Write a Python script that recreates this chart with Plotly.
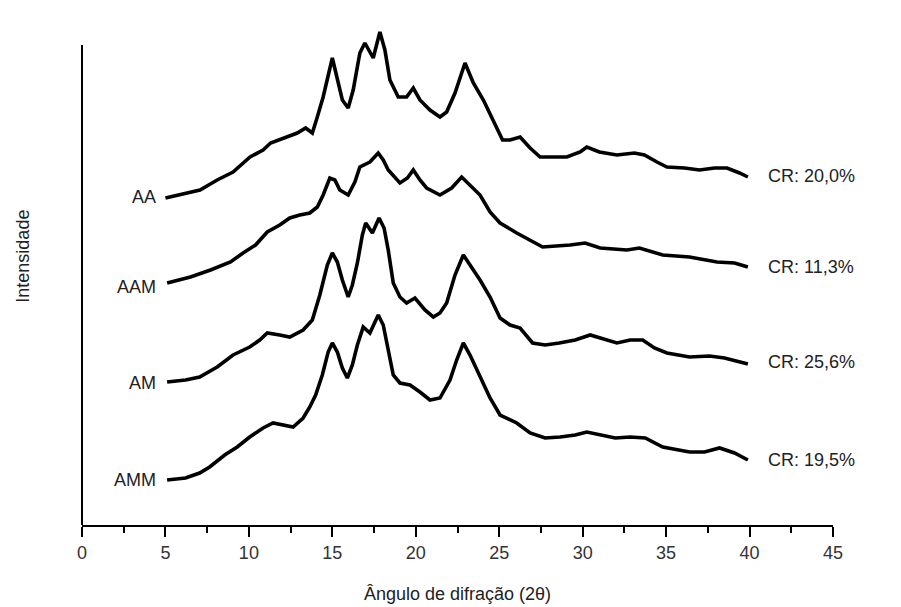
import plotly.graph_objects as go

# 2-theta angles (degrees) and intensities (a.u., stacked as drawn)
aa_x = [5.0, 6.0, 7.07, 8.1, 9.05, 10.07, 10.85, 11.3, 12.05, 12.9, 13.4, 13.8, 14.1, 14.45, 15.0, 15.3, 15.6, 15.95,
        16.25, 16.65, 16.95, 17.45, 17.85, 18.15, 18.45, 18.95, 19.45, 19.85, 20.25, 20.85, 21.45, 21.85, 22.35,
        22.95, 23.45, 24.05, 24.85, 25.2, 25.65, 26.25, 26.85, 27.45, 28.35, 29.05, 29.85, 30.25, 31.0, 32.05,
        33.1, 33.7, 34.45, 35.05, 36.1, 37.0, 37.9, 38.65, 39.4, 39.9]
aa_y = [327, 331, 335, 345, 353, 368, 375, 382, 387, 392, 397, 392, 408, 428, 467, 445, 425, 417,
        435, 472, 482, 467, 493, 475, 445, 428, 428, 437, 425, 415, 408, 413, 432,
        462, 442, 425, 398, 385, 385, 388, 377, 368, 368, 368, 373, 378, 373, 370,
        372, 370, 363, 358, 357, 355, 357, 357, 352, 348]

aam_x = [5.1, 6.5, 7.7, 8.9, 9.65, 10.4, 11.1, 11.85, 12.45, 13.05, 13.65, 14.1, 14.45, 14.85, 15.15, 15.45, 15.95,
         16.35, 16.65, 17.25, 17.75, 18.05, 18.35, 18.75, 19.05, 19.5, 19.85, 20.25, 20.65, 21.45, 22.15, 22.75,
         23.25, 23.85, 24.45, 25.05, 26.05, 26.85, 27.6, 29.25, 30.15, 31.05, 32.65, 33.4, 34.8, 36.4, 38.05,
         39.1, 39.9]
aam_y = [242, 248, 255, 263, 272, 280, 293, 300, 307, 310, 312, 318, 330, 347, 345, 335, 330,
         343, 358, 363, 372, 365, 355, 347, 342, 347, 355, 345, 337, 330, 337, 348,
         340, 330, 313, 302, 292, 285, 278, 280, 282, 277, 275, 277, 270, 268, 263,
         262, 258]

am_x = [5.1, 6.2, 7.05, 8.1, 9.05, 10.05, 10.65, 11.1, 11.85, 12.45, 13.25, 13.8, 14.25, 14.7, 15.0, 15.3, 15.6,
        15.95, 16.2, 16.5, 16.8, 17.0, 17.4, 17.8, 18.1, 18.35, 18.65, 19.05, 19.45, 19.95, 20.55, 21.05, 21.45,
        21.85, 22.35, 22.85, 23.25, 23.85, 24.45, 25.05, 25.65, 26.25, 27.0, 27.75, 28.6, 29.55, 30.45, 31.35,
        32.05, 32.85, 33.6, 34.3, 35.05, 36.4, 37.6, 38.5, 39.9]
am_y = [143, 145, 148, 158, 170, 178, 185, 192, 190, 188, 195, 205, 230, 260, 272, 263, 245,
        228, 240, 262, 290, 302, 292, 307, 297, 275, 242, 228, 222, 227, 215, 208, 212,
        222, 250, 270, 260, 245, 228, 207, 200, 197, 182, 180, 182, 185, 190, 185,
        182, 185, 185, 177, 172, 168, 169, 167, 161]

amm_x = [5.1, 6.2, 7.05, 7.65, 8.55, 9.3, 10.05, 10.85, 11.45, 12.15, 12.65, 13.25, 13.65, 14.0, 14.4, 14.75, 15.0,
         15.3, 15.6, 15.9, 16.2, 16.5, 16.85, 17.25, 17.75, 18.05, 18.35, 18.65, 19.05, 19.65, 20.25, 20.85, 21.45,
         22.05, 22.45, 22.85, 23.25, 23.85, 24.45, 25.05, 26.05, 26.85, 27.75, 28.65, 29.55, 30.25, 31.05, 31.95,
         32.85, 33.75, 34.8, 36.4, 37.3, 38.2, 39.1, 39.9]
amm_y = [45, 47, 52, 58, 70, 78, 88, 97, 102, 100, 98, 107, 118, 130, 150, 173, 182,
         173, 157, 147, 160, 180, 198, 192, 210, 200, 175, 150, 142, 140, 133, 125, 127,
         145, 165, 182, 170, 148, 127, 110, 102, 92, 87, 88, 90, 93, 90, 87,
         88, 87, 78, 73, 73, 77, 72, 65]

sample_names = ["AA", "AAM", "AM", "AMM"]
label_levels = [328, 238, 142, 45]          # intensity level of each left label
cr_labels = ["CR: 20,0%", "CR: 11,3%", "CR: 25,6%", "CR: 19,5%"]
cr_levels = [349, 258, 163, 65]             # intensity level of each right label

x_ticks = [0, 5, 10, 15, 20, 25, 30, 35, 40, 45]
y_axis_top = 480                            # where the drawn left axis line ends

series = [(aa_x, aa_y), (aam_x, aam_y), (am_x, am_y), (amm_x, amm_y)]

fig = go.Figure()
for (xs, ys), name in zip(series, sample_names):
    fig.add_trace(go.Scatter(x=xs, y=ys, mode="lines", name=name,
                             line=dict(color="black", width=3.6), showlegend=False))

text_font = dict(family="Liberation Sans, Arial, sans-serif", size=18, color="#222")

for name, lvl in zip(sample_names, label_levels):
    fig.add_annotation(x=4.55, y=lvl, text=name, showarrow=False, xanchor="right", yanchor="middle",
                       font=text_font)
for lab, lvl in zip(cr_labels, cr_levels):
    fig.add_annotation(x=41.0, y=lvl, text=lab, showarrow=False, xanchor="left", yanchor="middle",
                       font=text_font)

fig.add_annotation(xref="paper", x=-0.079, y=269, text="Intensidade", textangle=-90, showarrow=False,
                   xanchor="center", yanchor="middle", font=text_font)

# left axis line
fig.add_shape(type="line", xref="paper", yref="y", x0=0, x1=0, y0=0, y1=y_axis_top,
              line=dict(color="black", width=2))

fig.update_layout(
    width=901, height=607,
    margin=dict(l=74, r=76, t=7, b=90),
    paper_bgcolor="white", plot_bgcolor="white",
    font=text_font,
    xaxis=dict(range=[0, 45], tickvals=x_ticks, ticktext=[str(t) for t in x_ticks],
               ticks="outside", ticklen=10, tickwidth=2, tickcolor="black",
               showline=True, linecolor="black", linewidth=2, showgrid=False, zeroline=False,
               minor=dict(ticks="outside", ticklen=6, tickwidth=2, tickcolor="black", dtick=2.5, tick0=0,
                          showgrid=False),
               tickfont=dict(family="Liberation Sans, Arial, sans-serif", size=18, color="#333"),
               title=dict(text="Ângulo de difração (2θ)", standoff=26,
                          font=dict(family="Liberation Sans, Arial, sans-serif", size=18, color="#222"))),
    yaxis=dict(range=[0, 510], showticklabels=False, ticks="", showline=False,
               showgrid=False, zeroline=False),
)

fig.write_html("out.html")
